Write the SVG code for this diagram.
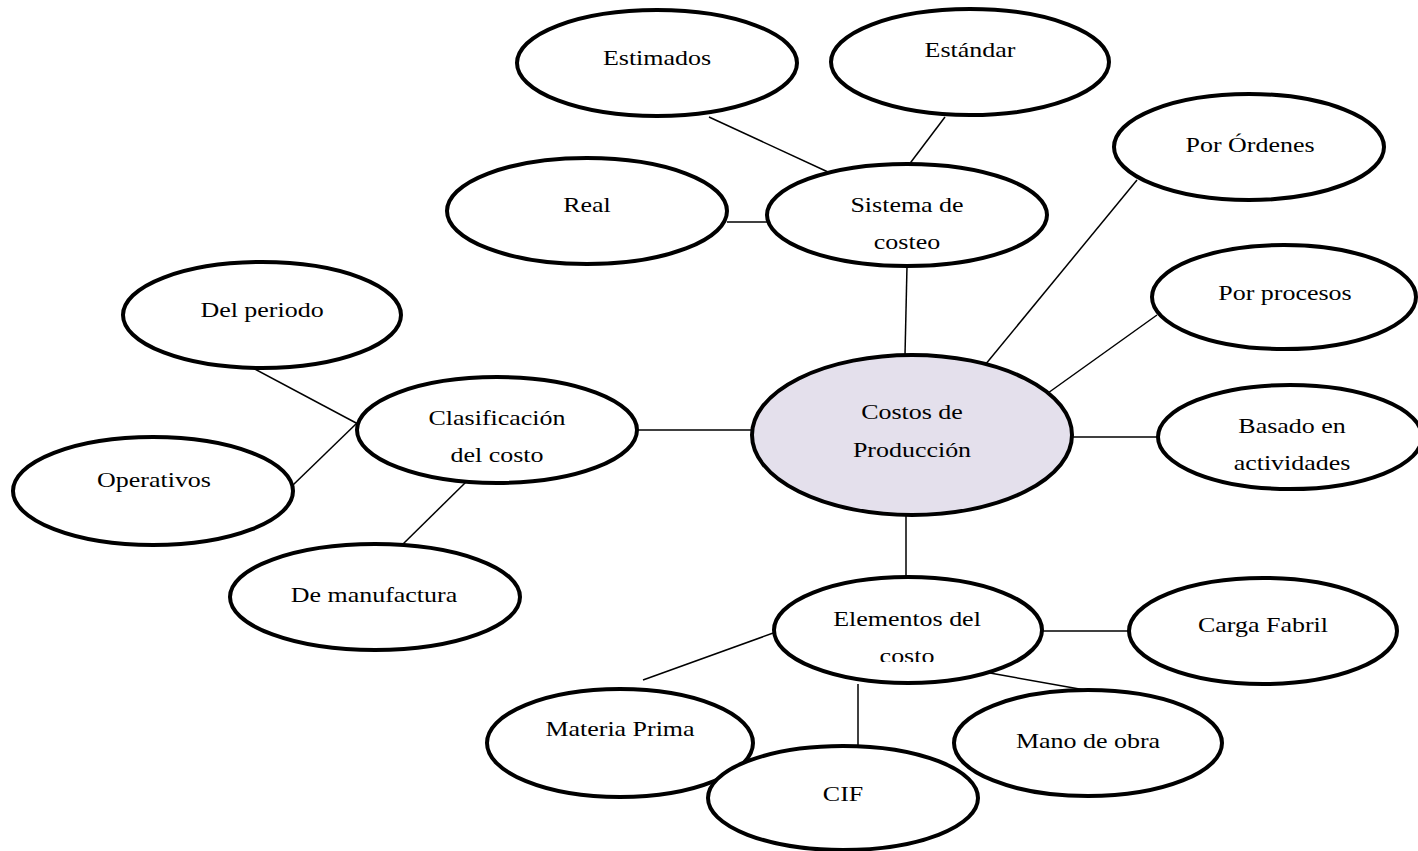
<svg xmlns="http://www.w3.org/2000/svg" width="1418" height="851" viewBox="0 0 1418 851">
  <style>
    .node ellipse { fill: #ffffff; stroke: #000000; stroke-width: 4; }
    .node.core ellipse { fill: #e4e0ec; }
    .node text { font-family: "Liberation Serif", "Times New Roman", serif; font-size: 22px; fill: #000000; text-anchor: middle; }
    #connectors line { stroke: #000000; stroke-width: 1.5; }
  </style>
  <defs>
    <clipPath id="clip-elementos">
      <rect x="700" y="560" width="420" height="102"/>
    </clipPath>
  </defs>
  <rect width="1418" height="851" fill="#ffffff"/>

  <g id="connectors">
    <line x1="709" y1="117" x2="828" y2="172"/>
    <line x1="945" y1="117" x2="908" y2="166"/>
    <line x1="727" y1="222" x2="768" y2="222"/>
    <line x1="907" y1="266" x2="905" y2="355"/>
    <line x1="1137" y1="180" x2="985" y2="365"/>
    <line x1="1157" y1="315" x2="1048" y2="393"/>
    <line x1="1072" y1="437" x2="1160" y2="437"/>
    <line x1="637" y1="430" x2="753" y2="430"/>
    <line x1="906" y1="515" x2="906" y2="578"/>
    <line x1="253" y1="368" x2="358" y2="424"/>
    <line x1="293" y1="485" x2="358" y2="422"/>
    <line x1="401" y1="546" x2="466" y2="482"/>
    <line x1="1042" y1="631" x2="1130" y2="631"/>
    <line x1="776" y1="632" x2="643" y2="680"/>
    <line x1="858" y1="684" x2="858" y2="745"/>
    <line x1="990" y1="673" x2="1085" y2="690"/>
  </g>

  <g id="estimados" class="node">
    <ellipse cx="657" cy="63" rx="140" ry="53"/>
    <text transform="matrix(1.18 0 0 1 657 65)">Estimados</text>
  </g>
  <g id="estandar" class="node">
    <ellipse cx="970" cy="62" rx="139" ry="53"/>
    <text transform="matrix(1.18 0 0 1 970 57)">Estándar</text>
  </g>
  <g id="real" class="node">
    <ellipse cx="587" cy="211" rx="140" ry="53"/>
    <text transform="matrix(1.18 0 0 1 587 212)">Real</text>
  </g>
  <g id="sistema" class="node">
    <ellipse cx="907" cy="215" rx="140" ry="51"/>
    <text transform="matrix(1.18 0 0 1 907 212)">Sistema de</text>
    <text transform="matrix(1.18 0 0 1 907 249)">costeo</text>
  </g>
  <g id="ordenes" class="node">
    <ellipse cx="1249" cy="147" rx="135" ry="53"/>
    <text transform="matrix(1.18 0 0 1 1250 152)">Por Órdenes</text>
  </g>
  <g id="procesos" class="node">
    <ellipse cx="1284" cy="297" rx="132" ry="52"/>
    <text transform="matrix(1.18 0 0 1 1285 300)">Por procesos</text>
  </g>
  <g id="actividades" class="node">
    <ellipse cx="1290" cy="437" rx="132" ry="52"/>
    <text transform="matrix(1.18 0 0 1 1292 433)">Basado en</text>
    <text transform="matrix(1.18 0 0 1 1292 470)">actividades</text>
  </g>
  <g id="costos" class="node core">
    <ellipse cx="912" cy="435" rx="160" ry="80"/>
    <text transform="matrix(1.18 0 0 1 912 419)">Costos de</text>
    <text transform="matrix(1.18 0 0 1 912 457)">Producción</text>
  </g>
  <g id="clasificacion" class="node">
    <ellipse cx="497" cy="430" rx="140" ry="53"/>
    <text transform="matrix(1.18 0 0 1 497 425)">Clasificación</text>
    <text transform="matrix(1.18 0 0 1 497 462)">del costo</text>
  </g>
  <g id="periodo" class="node">
    <ellipse cx="262" cy="315" rx="139" ry="53"/>
    <text transform="matrix(1.18 0 0 1 262 317)">Del periodo</text>
  </g>
  <g id="operativos" class="node">
    <ellipse cx="153" cy="491" rx="140" ry="54"/>
    <text transform="matrix(1.18 0 0 1 154 487)">Operativos</text>
  </g>
  <g id="manufactura" class="node">
    <ellipse cx="375" cy="597" rx="145" ry="53"/>
    <text transform="matrix(1.18 0 0 1 374 602)">De manufactura</text>
  </g>
  <g id="elementos" class="node">
    <ellipse cx="908" cy="630" rx="134" ry="53"/>
    <g clip-path="url(#clip-elementos)">
      <text transform="matrix(1.18 0 0 1 907 626)">Elementos del</text>
      <text transform="matrix(1.18 0 0 1 907 663)">costo</text>
    </g>
  </g>
  <g id="carga" class="node">
    <ellipse cx="1263" cy="631" rx="134" ry="53"/>
    <text transform="matrix(1.18 0 0 1 1263 632)">Carga Fabril</text>
  </g>
  <g id="materia" class="node">
    <ellipse cx="620" cy="743" rx="133" ry="54"/>
    <text transform="matrix(1.18 0 0 1 620 736)">Materia Prima</text>
  </g>
  <g id="mano" class="node">
    <ellipse cx="1088" cy="743" rx="134" ry="53"/>
    <text transform="matrix(1.18 0 0 1 1088 748)">Mano de obra</text>
  </g>
  <g id="cif" class="node">
    <ellipse cx="843" cy="798" rx="135" ry="52"/>
    <text transform="matrix(1.18 0 0 1 843 801)">CIF</text>
  </g>
</svg>
